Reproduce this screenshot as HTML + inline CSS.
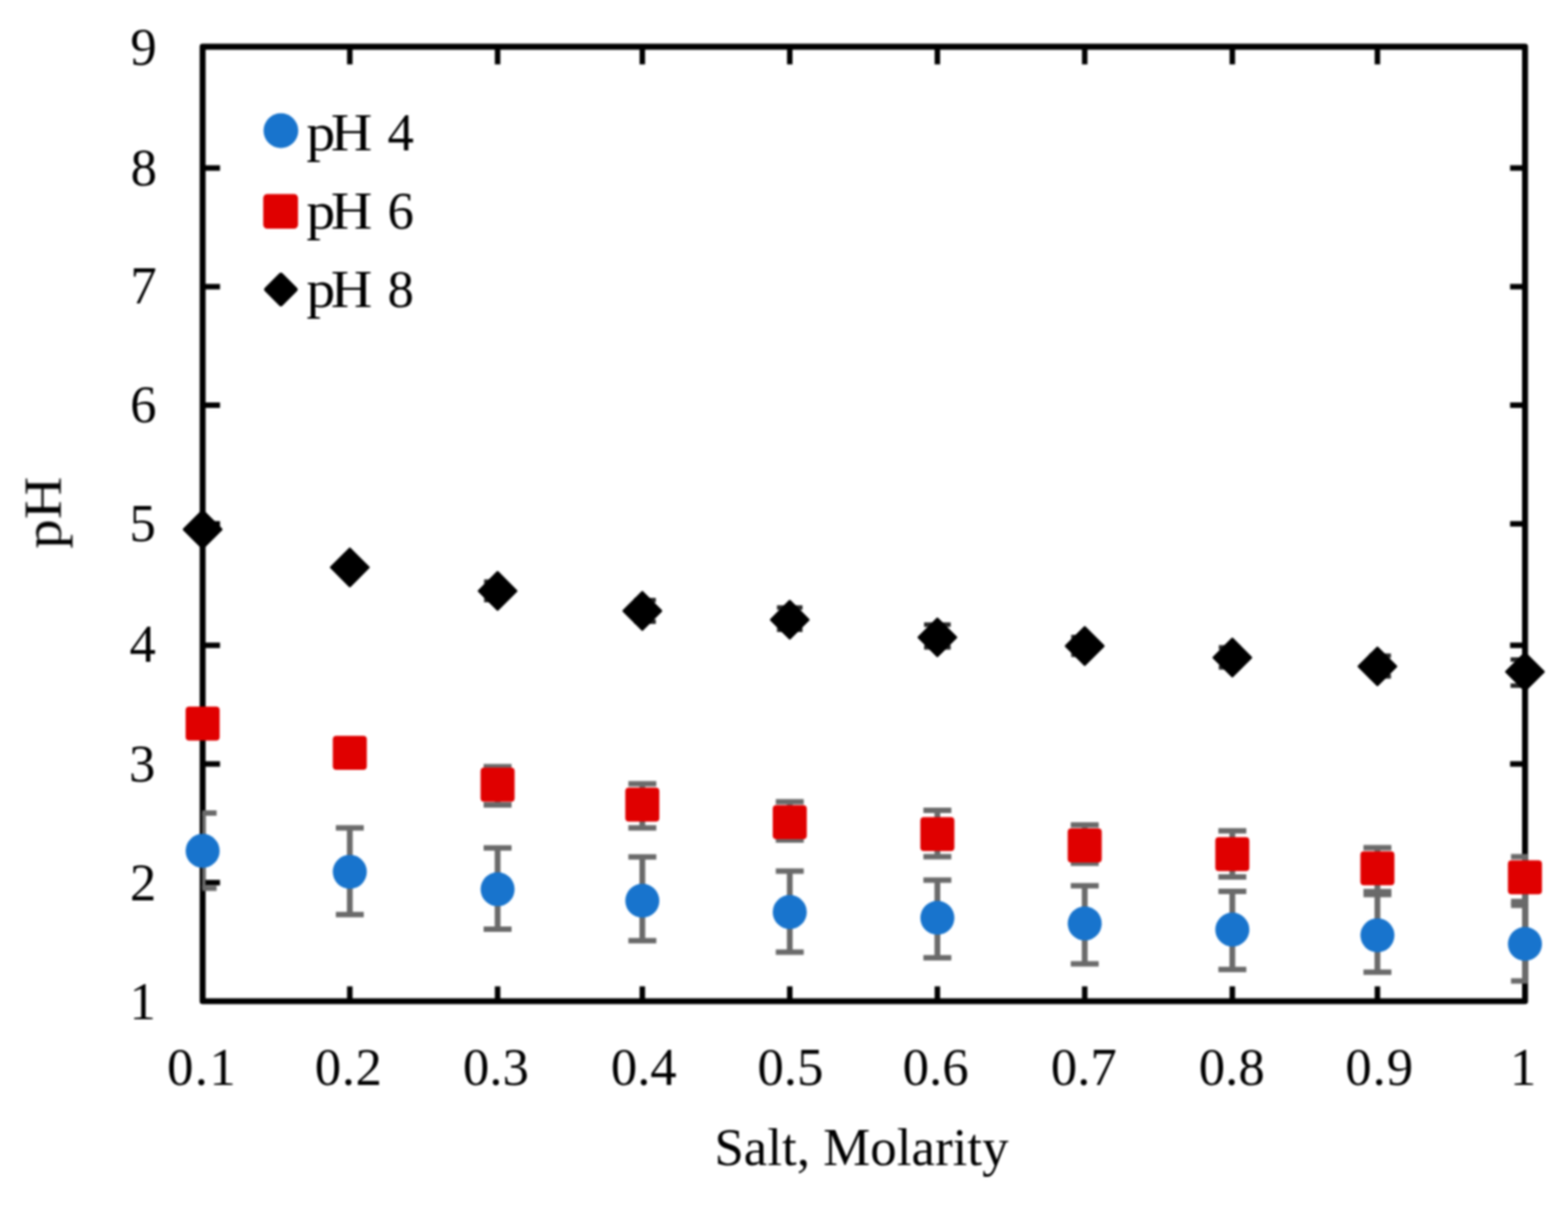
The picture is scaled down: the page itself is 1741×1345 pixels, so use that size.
<!DOCTYPE html>
<html lang="en">
<head>
<meta charset="utf-8">
<title>pH vs Salt Molarity</title>
<style>
html,body{margin:0;padding:0;background:#fff;}
body{width:1741px;height:1345px;overflow:hidden;}
svg{display:block;}
text{font-family:"Liberation Serif",serif;font-size:60px;fill:#000;}
.num text,tspan.num{font-size:58.6px;}
</style>
</head>
<body>
<svg width="1741" height="1345" viewBox="0 0 1741 1345">
<defs>
<filter id="soft" x="0" y="0" width="1741" height="1345" filterUnits="userSpaceOnUse" color-interpolation-filters="sRGB"><feGaussianBlur stdDeviation="0.8"/></filter>
<clipPath id="plot"><rect x="224.5" y="40" width="1472.5" height="1080"/></clipPath>
</defs>
<rect x="0" y="0" width="1741" height="1345" fill="#fff"/>
<g id="chart" filter="url(#soft)">

<g id="frame" fill="none" stroke="#000">
<rect x="225.0" y="51.9" width="1468.3" height="1060.1" stroke-width="6.6" stroke-linejoin="round"/>
<g stroke-width="6.1" stroke-linecap="butt">
<line x1="225.0" y1="980.3" x2="244.3" y2="980.3"/>
<line x1="1693.3" y1="980.3" x2="1676.7" y2="980.3"/>
<line x1="225.0" y1="848.5" x2="244.3" y2="848.5"/>
<line x1="1693.3" y1="848.5" x2="1676.7" y2="848.5"/>
<line x1="225.0" y1="716.7" x2="244.3" y2="716.7"/>
<line x1="1693.3" y1="716.7" x2="1676.7" y2="716.7"/>
<line x1="225.0" y1="581.8" x2="244.3" y2="581.8"/>
<line x1="1693.3" y1="581.8" x2="1676.7" y2="581.8"/>
<line x1="225.0" y1="450.0" x2="244.3" y2="450.0"/>
<line x1="1693.3" y1="450.0" x2="1676.7" y2="450.0"/>
<line x1="225.0" y1="318.4" x2="244.3" y2="318.4"/>
<line x1="1693.3" y1="318.4" x2="1676.7" y2="318.4"/>
<line x1="225.0" y1="186.6" x2="244.3" y2="186.6"/>
<line x1="1693.3" y1="186.6" x2="1676.7" y2="186.6"/>
<line x1="388.4" y1="51.9" x2="388.4" y2="71.5"/>
<line x1="388.4" y1="1112.0" x2="388.4" y2="1095.5"/>
<line x1="552.5" y1="51.9" x2="552.5" y2="71.5"/>
<line x1="552.5" y1="1112.0" x2="552.5" y2="1095.5"/>
<line x1="713.2" y1="51.9" x2="713.2" y2="71.5"/>
<line x1="713.2" y1="1112.0" x2="713.2" y2="1095.5"/>
<line x1="876.9" y1="51.9" x2="876.9" y2="71.5"/>
<line x1="876.9" y1="1112.0" x2="876.9" y2="1095.5"/>
<line x1="1040.8" y1="51.9" x2="1040.8" y2="71.5"/>
<line x1="1040.8" y1="1112.0" x2="1040.8" y2="1095.5"/>
<line x1="1204.4" y1="51.9" x2="1204.4" y2="71.5"/>
<line x1="1204.4" y1="1112.0" x2="1204.4" y2="1095.5"/>
<line x1="1368.3" y1="51.9" x2="1368.3" y2="71.5"/>
<line x1="1368.3" y1="1112.0" x2="1368.3" y2="1095.5"/>
<line x1="1529.4" y1="51.9" x2="1529.4" y2="71.5"/>
<line x1="1529.4" y1="1112.0" x2="1529.4" y2="1095.5"/>
</g></g>
<g id="series-ph4">
<g clip-path="url(#plot)" stroke="#6a6a6a" fill="none">
<path d="M209.5 903.0H240.5M209.5 986.6H240.5" stroke-width="6.0"/><path d="M225.0 903.0V986.6" stroke-width="6.4"/>
<path d="M372.9 919.5H403.9M372.9 1015.8H403.9" stroke-width="6.0"/><path d="M388.4 919.5V1015.8" stroke-width="6.4"/>
<path d="M537.0 941.7H568.0M537.0 1032.0H568.0" stroke-width="6.0"/><path d="M552.5 941.7V1032.0" stroke-width="6.4"/>
<path d="M697.7 951.8H728.7M697.7 1044.8H728.7" stroke-width="6.0"/><path d="M713.2 951.8V1044.8" stroke-width="6.4"/>
<path d="M861.4 967.5H892.4M861.4 1057.5H892.4" stroke-width="6.0"/><path d="M876.9 967.5V1057.5" stroke-width="6.4"/>
<path d="M1025.3 977.4H1056.3M1025.3 1063.8H1056.3" stroke-width="6.0"/><path d="M1040.8 977.4V1063.8" stroke-width="6.4"/>
<path d="M1188.9 983.7H1219.9M1188.9 1070.4H1219.9" stroke-width="6.0"/><path d="M1204.4 983.7V1070.4" stroke-width="6.4"/>
<path d="M1352.8 990.0H1383.8M1352.8 1076.7H1383.8" stroke-width="6.0"/><path d="M1368.3 990.0V1076.7" stroke-width="6.4"/>
<path d="M1513.9 993.6H1544.9M1513.9 1079.8H1544.9" stroke-width="6.0"/><path d="M1529.4 993.6V1079.8" stroke-width="6.4"/>
<path d="M1677.7 1005.6H1708.7M1677.7 1089.6H1708.7" stroke-width="6.0"/><path d="M1693.2 1005.6V1089.6" stroke-width="6.4"/>
</g>
<g fill="#1874cd">
<circle cx="225.0" cy="945.0" r="18.9"/>
<circle cx="388.4" cy="968.3" r="18.9"/>
<circle cx="552.5" cy="987.7" r="18.9"/>
<circle cx="713.2" cy="1000.4" r="18.9"/>
<circle cx="876.9" cy="1013.0" r="18.9"/>
<circle cx="1040.8" cy="1019.4" r="18.9"/>
<circle cx="1204.4" cy="1025.7" r="18.9"/>
<circle cx="1368.3" cy="1032.5" r="18.9"/>
<circle cx="1529.4" cy="1038.8" r="18.9"/>
<circle cx="1693.2" cy="1048.4" r="18.9"/>
</g></g>
<g id="series-ph6">
<g clip-path="url(#plot)" stroke="#6a6a6a" fill="none">
<path d="M537.0 851.5H568.0M537.0 894.0H568.0" stroke-width="6.0"/><path d="M552.5 851.5V894.0" stroke-width="6.4"/>
<path d="M697.7 870.5H728.7M697.7 919.5H728.7" stroke-width="6.0"/><path d="M713.2 870.5V919.5" stroke-width="6.4"/>
<path d="M861.4 890.4H892.4M861.4 933.0H892.4" stroke-width="6.0"/><path d="M876.9 890.4V933.0" stroke-width="6.4"/>
<path d="M1025.3 900.1H1056.3M1025.3 951.6H1056.3" stroke-width="6.0"/><path d="M1040.8 900.1V951.6" stroke-width="6.4"/>
<path d="M1188.9 916.2H1219.9M1188.9 958.7H1219.9" stroke-width="6.0"/><path d="M1204.4 916.2V958.7" stroke-width="6.4"/>
<path d="M1352.8 922.8H1383.8M1352.8 973.9H1383.8" stroke-width="6.0"/><path d="M1368.3 922.8V973.9" stroke-width="6.4"/>
<path d="M1513.9 941.5H1544.9M1513.9 990.3H1544.9" stroke-width="6.0"/><path d="M1529.4 941.5V990.3" stroke-width="6.4"/>
<path d="M1677.7 951.6H1708.7M1677.7 1001.2H1708.7" stroke-width="6.0"/><path d="M1693.2 951.6V1001.2" stroke-width="6.4"/>
</g>
<g fill="#e00000">
<rect x="206.1" y="784.7" width="37.8" height="37.8" rx="4" ry="4"/>
<rect x="369.5" y="817.3" width="37.8" height="37.8" rx="4" ry="4"/>
<rect x="533.6" y="852.6" width="37.8" height="37.8" rx="4" ry="4"/>
<rect x="694.3" y="874.8" width="37.8" height="37.8" rx="4" ry="4"/>
<rect x="858.0" y="894.3" width="37.8" height="37.8" rx="4" ry="4"/>
<rect x="1021.9" y="907.5" width="37.8" height="37.8" rx="4" ry="4"/>
<rect x="1185.5" y="920.1" width="37.8" height="37.8" rx="4" ry="4"/>
<rect x="1349.4" y="929.7" width="37.8" height="37.8" rx="4" ry="4"/>
<rect x="1510.5" y="945.4" width="37.8" height="37.8" rx="4" ry="4"/>
<rect x="1674.3" y="955.5" width="37.8" height="37.8" rx="4" ry="4"/>
</g></g>
<g id="series-ph8">
<g clip-path="url(#plot)" stroke="#2a2a2a" fill="none">
<path d="M537.5 646.0H561.5M537.5 666.5H561.5" stroke-width="5"/><path d="M552.5 646.0V666.5" stroke-width="6"/>
<path d="M704.2 666.5H728.2M704.2 690.5H728.2" stroke-width="5"/><path d="M713.2 666.5V690.5" stroke-width="6"/>
<path d="M862.7 674.8H891.1M862.7 699.5H891.1" stroke-width="5"/><path d="M876.9 674.8V699.5" stroke-width="6"/>
<path d="M1026.0 693.8H1055.6M1026.0 719.0H1055.6" stroke-width="5"/><path d="M1040.8 693.8V719.0" stroke-width="6"/>
<path d="M1189.4 707.5H1213.4M1189.4 727.3H1213.4" stroke-width="5"/><path d="M1204.4 707.5V727.3" stroke-width="6"/>
<path d="M1353.3 719.0H1377.3M1353.3 741.2H1377.3" stroke-width="5"/><path d="M1368.3 719.0V741.2" stroke-width="6"/>
<path d="M1520.4 728.2H1544.4M1520.4 751.3H1544.4" stroke-width="5"/><path d="M1529.4 728.2V751.3" stroke-width="6"/>
<path d="M1677.2 732.5H1709.2M1677.2 761.5H1709.2" stroke-width="5"/><path d="M1693.2 732.5V761.5" stroke-width="6"/>
</g>
<g fill="#000" stroke="#000" stroke-width="2.5" stroke-linejoin="round">
<path d="M225.0 567.2L245.8 588.0L225.0 608.8L204.2 588.0Z"/>
<path d="M388.4 609.4L409.2 630.2L388.4 651.0L367.6 630.2Z"/>
<path d="M552.5 635.5L573.3 656.3L552.5 677.1L531.7 656.3Z"/>
<path d="M713.2 657.7L734.0 678.5L713.2 699.3L692.4 678.5Z"/>
<path d="M876.9 667.5L897.7 688.3L876.9 709.1L856.1 688.3Z"/>
<path d="M1040.8 687.1L1061.6 707.9L1040.8 728.7L1020.0 707.9Z"/>
<path d="M1204.4 696.7L1225.2 717.5L1204.4 738.3L1183.6 717.5Z"/>
<path d="M1368.3 709.5L1389.1 730.3L1368.3 751.1L1347.5 730.3Z"/>
<path d="M1529.4 719.3L1550.2 740.1L1529.4 760.9L1508.6 740.1Z"/>
<path d="M1693.2 725.3L1714.0 746.1L1693.2 766.9L1672.4 746.1Z"/>
</g></g>
<g id="ylabels" class="num" text-anchor="middle">
<text x="158.5" y="1132.2">1</text>
<text x="158.8" y="999.7">2</text>
<text x="158.0" y="868.0">3</text>
<text x="158.4" y="735.3">4</text>
<text x="158.5" y="601.2">5</text>
<text x="159.1" y="469.4">6</text>
<text x="159.4" y="336.9">7</text>
<text x="159.6" y="206.3">8</text>
<text x="159.4" y="71.5">9</text>
</g>
<g id="xlabels" class="num" text-anchor="middle">
<text x="224.4" y="1204.9" letter-spacing="1.5">0.1</text>
<text x="387.1" y="1204.9" letter-spacing="0.7">0.2</text>
<text x="550.6" y="1204.9" letter-spacing="0">0.3</text>
<text x="714.8" y="1204.9" letter-spacing="0">0.4</text>
<text x="877.6" y="1204.9" letter-spacing="0">0.5</text>
<text x="1038.9" y="1204.9" letter-spacing="0">0.6</text>
<text x="1203.4" y="1204.9" letter-spacing="0">0.7</text>
<text x="1367.6" y="1204.9" letter-spacing="0">0.8</text>
<text x="1532.0" y="1204.9" letter-spacing="1.1">0.9</text>
<text x="1691.1" y="1204.9" letter-spacing="0">1</text>
</g>
<text id="xtitle" x="956.5" y="1294.2" text-anchor="middle" style="font-size:58.8px">Salt, Molarity</text>
<text id="ytitle" transform="translate(67.5 609.4) rotate(-90) scale(1.09 1)">pH</text>
<g id="legend">
<circle cx="311.9" cy="145.1" r="19.3" fill="#1874cd"/>
<rect x="292.3" y="215.4" width="38.6" height="38.6" rx="4.5" fill="#e00000"/>
<path d="M311.9 305.3L328.1 321.5L311.9 337.7L295.7 321.5Z" fill="#000" stroke="#000" stroke-width="5" stroke-linejoin="round"/>
<g class="num"><text transform="translate(340.2 167.2) scale(1.065 1)" style="font-size:60px">p<tspan dx="-4.7">H</tspan></text><text x="430.3" y="167.2">4</text></g>
<g class="num"><text transform="translate(340.2 254.0) scale(1.065 1)" style="font-size:60px">p<tspan dx="-4.7">H</tspan></text><text x="430.3" y="254.0">6</text></g>
<g class="num"><text transform="translate(340.2 341.3) scale(1.065 1)" style="font-size:60px">p<tspan dx="-4.7">H</tspan></text><text x="430.3" y="341.3">8</text></g>
</g>
</g>
</svg>
</body>
</html>
